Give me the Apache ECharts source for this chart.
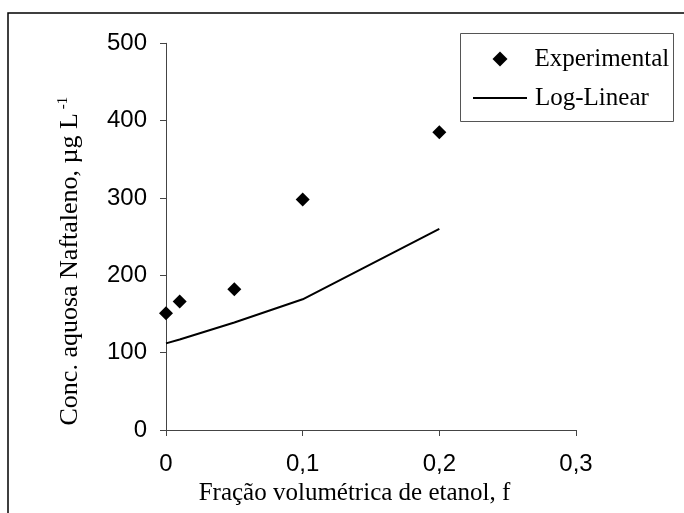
<!DOCTYPE html>
<html>
<head>
<meta charset="utf-8">
<script src="https://cdn.jsdelivr.net/npm/echarts@6/dist/echarts.min.js"></script>
<style>html,body{margin:0;padding:0;background:#fff;}#c{width:684px;height:513px;}</style>
</head>
<body>
<div id="c"></div>
<script>
var expX = [0, 0.01, 0.05, 0.1, 0.2];
var expY = [151, 166, 182, 298, 385];
var modelX = [0, 0.01, 0.05, 0.1, 0.2];
var modelY = [112, 117, 139, 169, 260];
var xTicks = [0, 0.1, 0.2, 0.3];
var yTicks = [0, 100, 200, 300, 400, 500];

function pairs(xs, ys) { return xs.map(function (x, i) { return [x, ys[i]]; }); }

var chart = echarts.init(document.getElementById('c'), null, {renderer: 'canvas'});
var axisCol = '#444';
var legendText = {fontFamily: 'Liberation Serif', fontSize: 25, color: '#000', lineHeight: 26};
chart.setOption({
  animation: false,
  backgroundColor: '#fff',
  grid: {left: 166, right: 108, top: 43.3, bottom: 83, containLabel: false},
  graphic: [{
    type: 'rect', silent: true,
    shape: {x: 8, y: 13, width: 720, height: 560},
    style: {fill: 'none', stroke: '#000', lineWidth: 1.5}
  }, {
    type: 'rect', silent: true, z: 0,
    shape: {x: 460.5, y: 33.5, width: 213, height: 88},
    style: {fill: '#fff', stroke: '#555', lineWidth: 1}
  }],
  legend: [{
    orient: 'vertical', left: 492.5, top: 46, padding: 0,
    itemWidth: 15, itemHeight: 15,
    textStyle: Object.assign({padding: [0, 0, 0, 22]}, legendText),
    data: [{name: 'Experimental', icon: 'diamond'}]
  }, {
    orient: 'vertical', left: 473, top: 85, padding: 0,
    itemWidth: 54, itemHeight: 2,
    textStyle: Object.assign({padding: [0, 0, 0, 3]}, legendText),
    data: [{name: 'Log-Linear', icon: 'rect'}]
  }],
  xAxis: {
    type: 'value', min: xTicks[0], max: xTicks[xTicks.length - 1], interval: 0.1,
    name: 'Fração volumétrica de etanol, f',
    nameLocation: 'middle', nameGap: 51,
    nameTextStyle: {fontFamily: 'Liberation Serif', fontSize: 25, color: '#000', padding: [0, 33, 0, 0]},
    axisLine: {show: true, onZero: false, lineStyle: {color: axisCol, width: 1}},
    axisTick: {show: true, inside: false, length: 6, lineStyle: {color: axisCol}},
    axisLabel: {margin: 22, fontFamily: 'Liberation Sans', fontSize: 24, color: '#000',
      formatter: function (v) { return String(Math.round(v * 10) / 10).replace('.', ','); }},
    splitLine: {show: false}
  },
  yAxis: {
    type: 'value', min: yTicks[0], max: yTicks[yTicks.length - 1], interval: 100,
    name: 'Conc. aquosa Naftaleno, µg L{sup| -1}',
    nameLocation: 'middle', nameGap: 81,
    nameTextStyle: {fontFamily: 'Liberation Serif', fontSize: 26, color: '#000', padding: [0, 49, 0, 0],
      rich: {sup: {fontFamily: 'Liberation Serif', fontSize: 15, verticalAlign: 'top', padding: [0, 0, 14, 0]}}},
    axisLine: {show: true, lineStyle: {color: axisCol, width: 1}},
    axisTick: {show: true, inside: false, length: 6, lineStyle: {color: axisCol}},
    axisLabel: {margin: 19, fontFamily: 'Liberation Sans', fontSize: 24, color: '#000'},
    splitLine: {show: false}
  },
  series: [{
    name: 'Experimental', type: 'scatter', symbol: 'diamond', symbolSize: 14,
    itemStyle: {color: '#000', opacity: 1},
    data: pairs(expX, expY)
  }, {
    name: 'Log-Linear', type: 'line', symbol: 'none', showSymbol: false,
    lineStyle: {color: '#000', width: 2}, itemStyle: {color: '#000'},
    data: pairs(modelX, modelY)
  }]
});
</script>
</body>
</html>
